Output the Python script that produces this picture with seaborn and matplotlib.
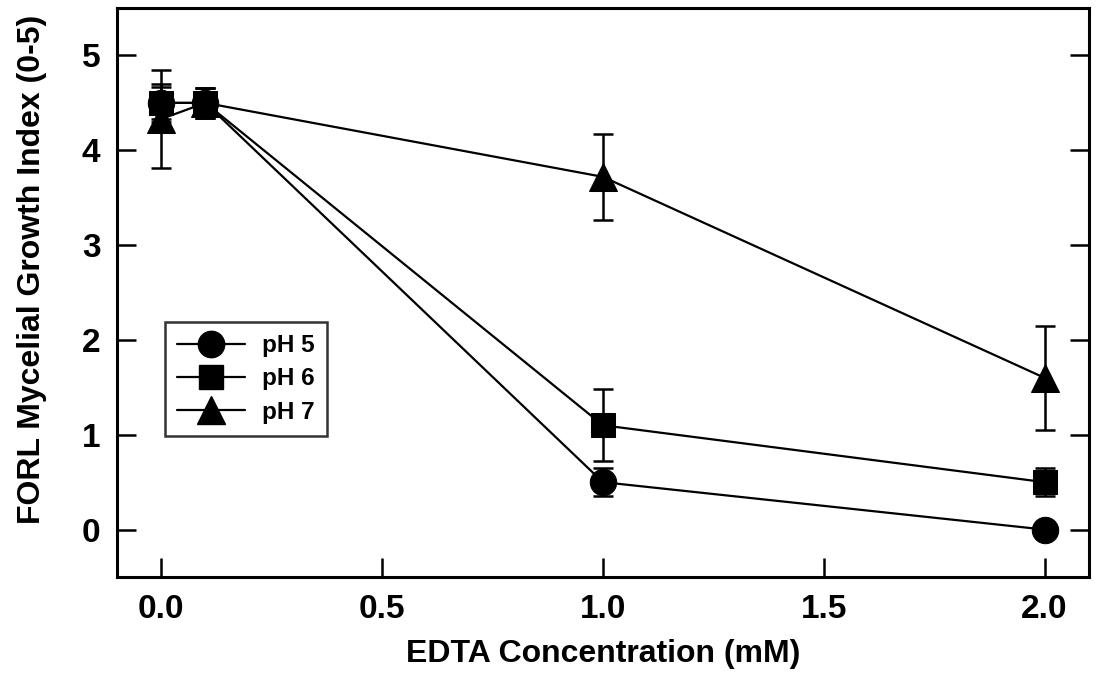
import numpy as np
import pandas as pd
import seaborn as sns
import matplotlib
matplotlib.use('Agg')
import matplotlib.pyplot as plt
from matplotlib.lines import Line2D

# EDTA concentration (mM)
edta = [0.0, 0.1, 1.0, 2.0]

ph5_mean = [4.5, 4.5, 0.5, 0.0]
ph5_err = [0.17, 0.16, 0.15, 0.0]
ph6_mean = [4.5, 4.5, 1.1, 0.5]
ph6_err = [0.2, 0.16, 0.38, 0.15]
ph7_mean = [4.33, 4.5, 3.72, 1.6]
ph7_err = [0.52, 0.16, 0.45, 0.55]

labels = ["pH 5", "pH 6", "pH 7"]
markers = ["o", "s", "^"]
sizes = [19, 17, 20]

sns.set_style("ticks")
plt.rcParams['font.family'] = ['Liberation Sans', 'DejaVu Sans']
plt.rcParams['font.weight'] = 'bold'
plt.rcParams['text.color'] = 'black'
plt.rcParams['axes.labelcolor'] = 'black'
plt.rcParams['xtick.color'] = 'black'
plt.rcParams['ytick.color'] = 'black'

fig = plt.figure(figsize=(10.98, 6.9), dpi=100)
ax = fig.add_axes([0.1066, 0.1638, 0.885, 0.8245])

means = [ph5_mean, ph6_mean, ph7_mean]
errs = [ph5_err, ph6_err, ph7_err]
handles = []
for lab, m, e, mk, ms in zip(labels, means, errs, markers, sizes):
    df = pd.DataFrame({"x": edta, "y": m})
    ax.errorbar(edta, m, yerr=e, fmt='none', ecolor='black', elinewidth=1.8,
                capsize=7, capthick=1.8, zorder=2)
    sns.lineplot(data=df, x="x", y="y", ax=ax, color="black", linewidth=1.6,
                 marker=mk, markersize=ms, markeredgecolor="black",
                 markerfacecolor="black", zorder=3)
    handles.append(Line2D([], [], color="black", linewidth=1.6, marker=mk,
                          markersize=ms, markerfacecolor="black"))

ax.set_xlim(-0.1, 2.1)
ax.set_ylim(-0.5, 5.5)
ax.set_xticks([0.0, 0.5, 1.0, 1.5, 2.0])
ax.set_xticklabels(["0.0", "0.5", "1.0", "1.5", "2.0"])
ax.set_yticks([0, 1, 2, 3, 4, 5])
ax.tick_params(direction='in', length=14, width=1.8, labelsize=24,
               top=False, right=True, pad=12)
for lbl in ax.get_xticklabels() + ax.get_yticklabels():
    lbl.set_fontweight('bold')
for s in ax.spines.values():
    s.set_linewidth(2.2)
    s.set_color("black")

ax.set_xlabel("EDTA Concentration (mM)", fontsize=23, fontweight='bold', labelpad=10)
ax.set_ylabel("FORL Mycelial Growth Index (0-5)", fontsize=23, fontweight='bold', labelpad=8)
ax.yaxis.set_label_coords(-0.072, 0.54)

leg = ax.legend(handles, labels, loc="upper left", bbox_to_anchor=(0.049, 0.448),
                borderaxespad=0, frameon=True, fancybox=False, edgecolor="black",
                handlelength=2.8, handletextpad=0.7, borderpad=0.5, labelspacing=0.42,
                prop={'weight': 'bold', 'size': 17.5})
leg.get_frame().set_linewidth(1.8)

plt.savefig("out.png", dpi=100)
